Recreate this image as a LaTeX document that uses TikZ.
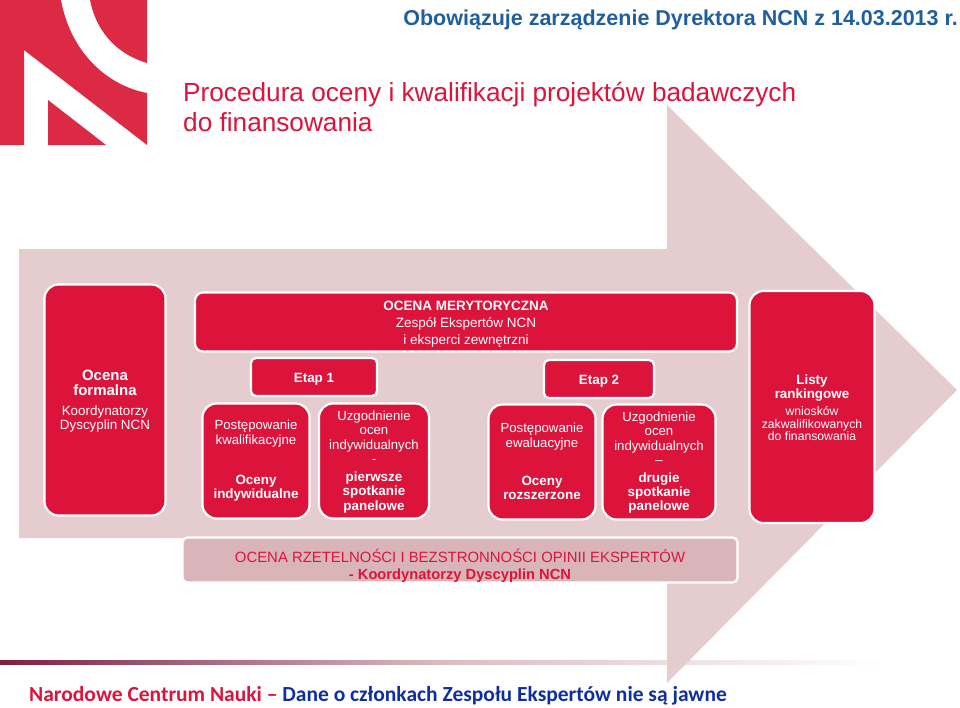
\documentclass[tikz,border=0pt]{standalone}
\usepackage{fontspec}
\setmainfont{Liberation Sans}
\newfontfamily\carl{Carlito}
\definecolor{crim}{HTML}{DC143C}
\definecolor{logored}{HTML}{DC2A45}
\definecolor{pinkbg}{HTML}{E5CDCF}
\definecolor{greybox}{HTML}{D9B5BA}
\definecolor{headblue}{HTML}{1F5F9F}
\definecolor{footblue}{HTML}{0F2F9F}
\definecolor{barred}{HTML}{7F1F3F}
\tikzset{
  cbox/.style={draw=white,line width=2.2pt,fill=crim,text=white,align=center,inner sep=0pt,rounded corners=#1},
  cbox/.default=12pt,
  lbl/.style={text=white,align=center,inner sep=0pt,font=\fontsize{13.2}{14.5}\selectfont},
  lblb/.style={text=white,align=center,inner sep=0pt,font=\fontsize{13.4}{14.4}\selectfont\bfseries},
}
\newcommand{\bt}[1]{\textbf{#1}}
\begin{document}
\begin{tikzpicture}[x=1pt,y=-1pt]
\useasboundingbox (0,0) rectangle (960,707);
% logo
\fill[logored] (0,0) -- (61,0) .. controls (70,50) and (105,85) .. (147,93) -- (147,145) -- (24,50) -- (24,145) -- (0,145) -- cycle;
\fill[logored] (90,0) -- (147,0) -- (147,63) .. controls (120,55) and (97,35) .. (90,0) -- cycle;
\fill[logored] (48,100) -- (106,145) -- (48,145) -- cycle;
% header
\node[anchor=base east,inner sep=0pt,text=headblue,font=\fontsize{21.5}{24}\selectfont\bfseries] (hdr) at (958,25) {Obowiązuje zarządzenie Dyrektora NCN z 14.03.2013 r.};
\node[anchor=base west,inner sep=0pt,text=crim,font=\fontsize{26.2}{30}\selectfont] (title) at (183,101) {Procedura oceny i kwalifikacji projektów badawczych};
\node[anchor=base west,inner sep=0pt,text=crim,font=\fontsize{26.2}{30}\selectfont] (title2) at (183,131) {do finansowania};
% footer bar
\shade[left color=barred,right color=white,middle color=pinkbg!90!barred] (0,660) rectangle (885,664);
% arrow
\fill[pinkbg] (19,249) -- (667,249) -- (667,105) -- (957,390) -- (667,683) -- (667,538) -- (19,538) -- cycle;
% boxes
\node[cbox=14pt,minimum width=121pt,minimum height=231pt] (form) at (105,400) {};
\node[lbl,font=\fontsize{15}{15.5}\selectfont\bfseries] (formt) at (105,383) {Ocena\\formalna};
\node[lbl,font=\fontsize{13.4}{14.5}\selectfont] (formb) at (105,419) {Koordynatorzy\\Dyscyplin NCN};
\node[cbox=8pt,minimum width=542pt,minimum height=59pt] (mer) at (466,322) {};
\node[lbl,font=\fontsize{13.5}{17}\selectfont] (mert) at (466,324) {\bt{OCENA MERYTORYCZNA}\\Zespół Ekspertów NCN\\i eksperci zewnętrzni};
\node[cbox=5pt,minimum width=126pt,minimum height=38pt] (e1) at (314,377) {};
\node[lblb] (e1t) at (314,379) {Etap 1};
\node[cbox=5pt,minimum width=110pt,minimum height=38pt] (e2) at (599,379) {};
\node[lblb] (e2t) at (599,381.5) {Etap 2};
\node[cbox=14pt,minimum width=107pt,minimum height=115pt] (k1) at (256,461) {};
\node[lbl,font=\fontsize{13.2}{15}\selectfont] (k1a) at (256,434) {Postępowanie\\kwalifikacyjne};
\node[lblb] (k1b) at (256,488) {Oceny\\indywidualne};
\node[cbox=14pt,minimum width=110pt,minimum height=115pt] (u1) at (374,461) {};
\node[lbl] (u1a) at (374,437) {Uzgodnienie\\ocen\\indywidualnych\\-};
\node[lblb] (u1b) at (374,492.5) {pierwsze\\spotkanie\\panelowe};
\node[cbox=14pt,minimum width=107pt,minimum height=115pt] (k2) at (542,462) {};
\node[lbl,font=\fontsize{13.2}{15}\selectfont] (k2a) at (542,437) {Postępowanie\\ewaluacyjne};
\node[lblb] (k2b) at (542,488) {Oceny\\rozszerzone};
\node[cbox=14pt,minimum width=113pt,minimum height=115pt] (u2) at (659,462) {};
\node[lbl] (u2a) at (659,438) {Uzgodnienie\\ocen\\indywidualnych\\–};
\node[lblb] (u2b) at (659,493) {drugie\\spotkanie\\panelowe};
\node[cbox=14pt,minimum width=125pt,minimum height=232pt] (lis) at (812,407) {};
\node[lblb] (list) at (812,388) {Listy\\rankingowe};
\node[lbl,font=\fontsize{12.2}{12.5}\selectfont] (lisb) at (812,424) {wniosków\\zakwalifikowanych\\do finansowania};
\node[cbox=5pt,fill=greybox,minimum width=555pt,minimum height=45pt] (rz) at (460,560) {};
\node[lbl,text=crim,font=\fontsize{14.9}{16.5}\selectfont] (rzt) at (460,566) {OCENA RZETELNOŚCI I BEZSTRONNOŚCI OPINII EKSPERTÓW\\\bt{\fontsize{14.7}{16.5}\selectfont - Koordynatorzy Dyscyplin NCN}};
% footer
\node[anchor=base west,inner sep=0pt,font=\fontsize{21.5}{24}\selectfont\carl\bfseries] (foot) at (29,701) {\textcolor{crim}{Narodowe Centrum Nauki –} \textcolor{footblue}{Dane o członkach Zespołu Ekspertów nie są jawne}};
\end{tikzpicture}
\end{document}
